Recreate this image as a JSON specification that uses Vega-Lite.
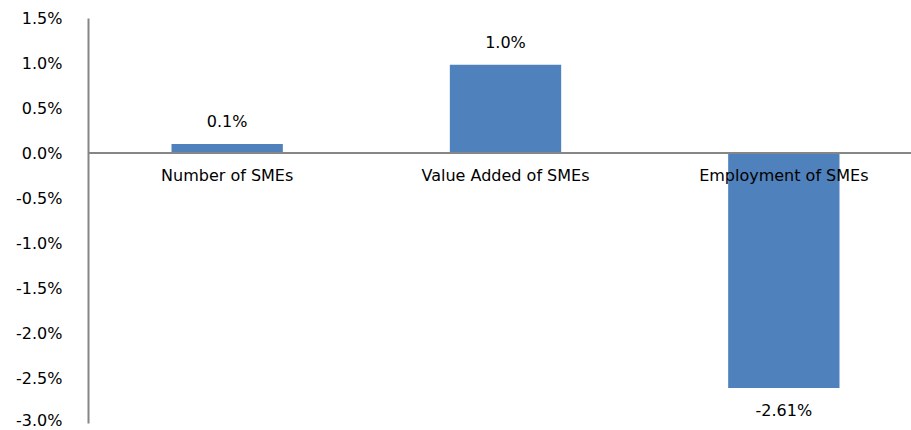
{
  "$schema": "https://vega.github.io/schema/vega-lite/v6.json",
  "autosize": {"type": "none"},
  "padding": {"left": 88, "top": 18, "right": 0, "bottom": 7},
  "width": 835,
  "height": 405,
  "background": "white",
  "config": {"view": {"stroke": null}, "font": "DejaVu Sans"},
  "data": {"values": [
    {"category": "Number of SMEs", "value": 0.001, "label": "0.1%"},
    {"category": "Value Added of SMEs", "value": 0.0098, "label": "1.0%"},
    {"category": "Employment of SMEs", "value": -0.0261, "label": "-2.61%"}
  ]},
  "encoding": {
    "x": {"field": "category", "type": "nominal", "sort": null,
      "scale": {"paddingInner": 0.6, "paddingOuter": 0.3}, "axis": null}
  },
  "layer": [
    {
      "mark": {"type": "bar", "color": "#4F81BD"},
      "encoding": {
        "y": {"field": "value", "type": "quantitative",
          "scale": {"domain": [-0.03, 0.015], "nice": false, "zero": false},
          "axis": {"title": null, "values": [-0.03, -0.025, -0.02, -0.015, -0.01, -0.005, 0, 0.005, 0.01, 0.015],
            "labelExpr": "replace(format(datum.value, '.1%'), '\u2212', '-')",
            "labelOffset": {"condition": {"test": "datum.value < -0.029", "value": -3}, "value": 0},
            "grid": false, "ticks": false, "domainColor": "#868686", "domainWidth": 2,
            "labelPadding": 26, "labelFontSize": 16, "labelColor": "#000000", "labelFont": "DejaVu Sans"}}
      }
    },
    {
      "mark": {"type": "rule", "color": "#868686", "strokeWidth": 2},
      "encoding": {"y": {"datum": 0}, "x": {"value": 0}, "x2": {"value": 835}}
    },
    {
      "mark": {"type": "text", "fontSize": 16, "color": "#000000", "baseline": "middle", "dy": 23},
      "encoding": {"y": {"datum": 0}, "text": {"field": "category"}}
    },
    {
      "transform": [{"filter": "datum.value >= 0"}],
      "mark": {"type": "text", "fontSize": 16, "color": "#000000", "baseline": "middle", "dy": -22},
      "encoding": {
        "y": {"field": "value", "type": "quantitative"},
        "text": {"field": "label"}
      }
    },
    {
      "transform": [{"filter": "datum.value < 0"}],
      "mark": {"type": "text", "fontSize": 16, "color": "#000000", "baseline": "middle", "dy": 23},
      "encoding": {
        "y": {"field": "value", "type": "quantitative"},
        "text": {"field": "label"}
      }
    }
  ]
}
